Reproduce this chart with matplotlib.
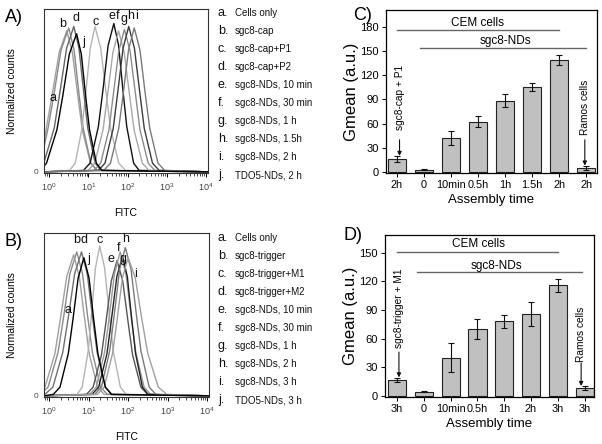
import numpy as np
import matplotlib
matplotlib.use('Agg')
import matplotlib.pyplot as plt
from matplotlib.ticker import LogLocator, NullFormatter

plt.rcParams['font.family'] = ['Liberation Sans', 'DejaVu Sans']
plt.rcParams['mathtext.default'] = 'regular'

# ---- flow cytometry histograms: log10(FITC) positions and normalized counts ----
letters = ['a', 'b', 'c', 'd', 'e', 'f', 'g', 'h', 'i', 'j']

hist_A_logx = [
    [-0.13, -0.077, 0.078, 0.256, 0.45, 0.595, 0.729, 0.845, 1.055, 1.224, 4.05],
    [-0.13, -0.027, 0.128, 0.306, 0.5, 0.636, 0.76, 0.869, 1.064, 1.222, 4.05],
    [-0.13, 0.525, 0.666, 0.84, 0.938, 1.049, 1.17, 1.315, 1.449, 1.565, 1.775, 1.944, 4.05],
    [-0.136, 0.13, 0.277, 0.446, 0.63, 0.761, 0.881, 0.986, 1.174, 1.327, 4.05],
    [-0.13, 0.876, 1.045, 1.255, 1.371, 1.505, 1.65, 1.771, 1.882, 1.98, 2.154, 2.295, 4.05],
    [-0.13, 0.996, 1.165, 1.375, 1.491, 1.625, 1.77, 1.915, 2.049, 2.165, 2.375, 2.544, 4.05],
    [-0.13, 1.146, 1.315, 1.525, 1.641, 1.775, 1.92, 2.065, 2.199, 2.315, 2.525, 2.694, 4.05],
    [-0.13, 1.256, 1.425, 1.635, 1.751, 1.885, 2.03, 2.175, 2.309, 2.425, 2.635, 2.804, 4.05],
    [-0.13, 1.396, 1.565, 1.775, 1.891, 2.025, 2.17, 2.315, 2.449, 2.565, 2.775, 2.944, 4.05],
    [-0.13, -0.066, 0.2, 0.347, 0.516, 0.7, 0.821, 0.932, 1.03, 1.204, 1.345, 4.05],
]
hist_A_counts = [
    [0.20, 0.29, 0.53, 0.82, 0.97, 0.82, 0.53, 0.29, 0.06, 0.01, 0.0],
    [0.17, 0.30, 0.54, 0.84, 0.99, 0.84, 0.54, 0.30, 0.06, 0.01, 0.0],
    [0.0, 0.01, 0.06, 0.30, 0.55, 0.85, 1.0, 0.85, 0.55, 0.30, 0.06, 0.01, 0.0],
    [0.06, 0.30, 0.55, 0.85, 1.0, 0.85, 0.55, 0.30, 0.06, 0.01, 0.0],
    [0.0, 0.01, 0.06, 0.31, 0.56, 0.87, 1.02, 0.87, 0.56, 0.31, 0.06, 0.01, 0.0],
    [0.0, 0.01, 0.06, 0.29, 0.53, 0.82, 0.97, 0.82, 0.53, 0.29, 0.06, 0.01, 0.0],
    [0.0, 0.01, 0.06, 0.29, 0.54, 0.83, 0.98, 0.83, 0.54, 0.29, 0.06, 0.01, 0.0],
    [0.0, 0.01, 0.06, 0.30, 0.55, 0.85, 1.0, 0.85, 0.55, 0.30, 0.06, 0.01, 0.0],
    [0.0, 0.01, 0.06, 0.30, 0.54, 0.84, 0.99, 0.84, 0.54, 0.30, 0.06, 0.01, 0.0],
    [0.04, 0.06, 0.29, 0.52, 0.81, 0.95, 0.81, 0.52, 0.29, 0.06, 0.01, 0.0],
]
hist_A_colors = ['#a0a0a0', '#8a8a8a', '#b4b4b4', '#666666', '#111111',
                 '#a8a8a8', '#8c8c8c', '#3c3c3c', '#7a7a7a', '#000000']
label_A_pos = [(0.09, 0.51), (0.35, 1.02), (1.18, 1.03), (0.69, 1.06), (1.6, 1.07),
               (1.75, 1.07), (1.9, 1.05), (2.07, 1.07), (2.22, 1.07), (0.88, 0.89)]

hist_B_logx = [
    [-0.309, -0.105, 0.146, 0.286, 0.446, 0.62, 0.765, 0.899, 1.015, 1.225, 1.394, 4.05],
    [-0.229, -0.025, 0.226, 0.366, 0.526, 0.70, 0.845, 0.979, 1.095, 1.305, 1.474, 4.05],
    [-0.13, 0.712, 0.837, 0.99, 1.076, 1.174, 1.28, 1.406, 1.522, 1.623, 1.804, 1.951, 4.05],
    [-0.109, 0.095, 0.346, 0.486, 0.646, 0.82, 0.965, 1.099, 1.215, 1.425, 1.594, 4.05],
    [-0.13, 0.946, 1.115, 1.325, 1.441, 1.575, 1.72, 1.865, 1.999, 2.115, 2.325, 2.494, 4.05],
    [-0.13, 1.026, 1.195, 1.405, 1.521, 1.655, 1.80, 1.945, 2.079, 2.195, 2.405, 2.574, 4.05],
    [-0.13, 1.086, 1.255, 1.465, 1.581, 1.715, 1.86, 1.981, 2.092, 2.19, 2.364, 2.505, 4.05],
    [-0.13, 1.156, 1.325, 1.535, 1.651, 1.785, 1.93, 2.075, 2.209, 2.325, 2.535, 2.704, 4.05],
    [-0.13, 1.226, 1.395, 1.605, 1.721, 1.855, 2.0, 2.184, 2.353, 2.5, 2.766, 2.98, 4.05],
    [-0.13, 0.106, 0.275, 0.485, 0.601, 0.735, 0.88, 1.011, 1.131, 1.236, 1.424, 1.577, 4.05],
]
hist_B_counts = [
    [0.01, 0.06, 0.29, 0.53, 0.82, 0.97, 0.82, 0.53, 0.29, 0.06, 0.01, 0.0],
    [0.01, 0.06, 0.30, 0.54, 0.84, 0.99, 0.84, 0.54, 0.30, 0.06, 0.01, 0.0],
    [0.0, 0.01, 0.06, 0.31, 0.57, 0.88, 1.03, 0.88, 0.57, 0.31, 0.06, 0.01, 0.0],
    [0.01, 0.06, 0.30, 0.54, 0.84, 0.99, 0.84, 0.54, 0.30, 0.06, 0.01, 0.0],
    [0.0, 0.01, 0.06, 0.28, 0.51, 0.79, 0.93, 0.79, 0.51, 0.28, 0.06, 0.01, 0.0],
    [0.0, 0.01, 0.06, 0.30, 0.54, 0.84, 0.99, 0.84, 0.54, 0.30, 0.06, 0.01, 0.0],
    [0.0, 0.01, 0.06, 0.29, 0.53, 0.82, 0.96, 0.82, 0.53, 0.29, 0.06, 0.01, 0.0],
    [0.0, 0.01, 0.06, 0.31, 0.56, 0.87, 1.02, 0.87, 0.56, 0.31, 0.06, 0.01, 0.0],
    [0.0, 0.01, 0.06, 0.29, 0.52, 0.81, 0.95, 0.81, 0.52, 0.29, 0.06, 0.01, 0.0],
    [0.0, 0.01, 0.06, 0.29, 0.52, 0.81, 0.95, 0.81, 0.52, 0.29, 0.06, 0.01, 0.0],
]
hist_B_colors = ['#a0a0a0', '#8a8a8a', '#b4b4b4', '#707070', '#555555',
                 '#9a9a9a', '#222222', '#7a7a7a', '#a0a0a0', '#000000']
label_B_pos = [(0.48, 0.59), (0.69, 1.07), (1.28, 1.07), (0.88, 1.07), (1.56, 0.94),
               (1.75, 1.02), (1.88, 0.94), (1.94, 1.08), (2.19, 0.84), (0.99, 0.94)]

legend_A = ['Cells only', 'sgc8-cap', 'sgc8-cap+P1', 'sgc8-cap+P2', 'sgc8-NDs, 10 min',
            'sgc8-NDs, 30 min', 'sgc8-NDs, 1 h', 'sgc8-NDs, 1.5h', 'sgc8-NDs, 2 h', 'TDO5-NDs, 2 h']
legend_B = ['Cells only', 'sgc8-trigger', 'sgc8-trigger+M1', 'sgc8-trigger+M2', 'sgc8-NDs, 10 min',
            'sgc8-NDs, 30 min', 'sgc8-NDs, 1 h', 'sgc8-NDs, 2 h', 'sgc8-NDs, 3 h', 'TDO5-NDs, 3 h']

# ---- Gmean bar charts ----
time_C = ['2h', '0', '10min', '0.5h', '1h', '1.5h', '2h', '2h']
gmean_C = [16, 3, 42, 62.5, 88.5, 105, 139, 5]
err_C = [3.5, 1, 8.5, 7, 8, 5, 6.6, 2.5]

time_D = ['3h', '0', '10min', '0.5h', '1h', '2h', '3h', '3h']
gmean_D = [16.5, 4.5, 40, 70, 78, 85.5, 116, 8]
err_D = [2, 0.7, 15, 10.3, 7, 12.5, 6.7, 2]

W, H = 602, 444
fig = plt.figure(figsize=(W / 100, H / 100), dpi=100)


def px_axes(left, top, right, bottom):
    return fig.add_axes([left / W, 1 - bottom / H, (right - left) / W, (bottom - top) / H])


def draw_hist(ax, xs, ys, colors, lab_pos):
    for x, y, c in zip(xs, ys, colors):
        ax.plot(10 ** np.array(x), y, color=c, lw=1.0)
    for l, (lx, ly) in zip(letters, lab_pos):
        ax.text(10 ** lx, ly, l, fontsize=9, ha='center', va='center', color='#111111')
    ax.set_xscale('log')
    ax.set_xlim(10 ** -0.13, 10 ** 4.05)
    ax.set_ylim(-0.008, 1.12)
    ax.set_xticks([1, 10, 100, 1000, 10000])
    ax.set_xticklabels([r'$10^{0}$', r'$10^{1}$', r'$10^{2}$', r'$10^{3}$', r'$10^{4}$'])
    ax.xaxis.set_minor_locator(LogLocator(base=10, subs=np.arange(2, 10), numticks=20))
    ax.xaxis.set_minor_formatter(NullFormatter())
    ax.tick_params(axis='x', which='major', length=3, width=0.7, labelsize=6.5,
                   labelcolor='#444444', pad=3)
    ax.tick_params(axis='x', which='minor', length=2, width=0.5)
    ax.set_yticks([0])
    ax.set_yticklabels(['0'])
    ax.tick_params(axis='y', length=0, labelsize=6, labelcolor='#444444', pad=4)
    for s in ax.spines.values():
        s.set_linewidth(0.8)
        s.set_color('#333333')
    ax.set_ylabel('Normalized counts', fontsize=7.5, labelpad=12)
    ax.set_xlabel('FITC', fontsize=7.5, labelpad=11)


axA = px_axes(44, 9, 208, 173)
draw_hist(axA, hist_A_logx, hist_A_counts, hist_A_colors, label_A_pos)
axB = px_axes(44, 233, 209, 397)
draw_hist(axB, hist_B_logx, hist_B_counts, hist_B_colors, label_B_pos)

for names, y0 in [(legend_A, 13), (legend_B, 238)]:
    for k, (l, name) in enumerate(zip(letters, names)):
        yy = 1 - (y0 + 18 * k) / H
        fig.text(218 / W, yy, l + '.', fontsize=9, va='center', ha='left', color='#111111')
        fig.text(235 / W, yy, name, fontsize=7, va='center', ha='left', color='#111111')


def draw_bars(ax, labels, vals, errs, ylim, xlim, yticks):
    x = np.arange(len(vals))
    ax.bar(x, vals, width=0.68, color='#c0c0c0', edgecolor='#222222', linewidth=0.8)
    ax.errorbar(x, vals, yerr=errs, fmt='none', ecolor='#111111', elinewidth=0.8,
                capsize=2, capthick=0.8)
    ax.set_xticks(x)
    ax.set_xticklabels(labels)
    ax.set_xlim(*xlim)
    ax.set_ylim(*ylim)
    ax.set_yticks(yticks)
    ax.tick_params(labelsize=8, length=3, width=0.7, pad=2)
    ax.tick_params(axis='x', labelsize=7.8)
    for s in ax.spines.values():
        s.set_linewidth(0.9)
    ax.set_ylabel('Gmean (a.u.)', fontsize=12, labelpad=1)
    ax.set_xlabel('Assembly time', fontsize=9.5, labelpad=3)


def note(ax, text, x, y_text, y_from, y_to):
    ax.annotate('', xy=(x, y_to), xytext=(x, y_from),
                arrowprops=dict(arrowstyle='-|>', color='#111111', lw=0.8, mutation_scale=6,
                                shrinkA=0, shrinkB=0))
    ax.text(x, y_text, text, rotation=90, ha='center', va='bottom', fontsize=7.3)


axC = px_axes(386, 10, 597, 173)
draw_bars(axC, time_C, gmean_C, err_C, (-1.2, 201), (-0.4, 7.4), range(0, 181, 30))
axC.plot([0, 6], [176, 176], color='#666666', lw=1)
axC.plot([0.85, 7], [154, 154], color='#666666', lw=1)
axC.text(3.0, 185, 'CEM cells', ha='center', va='center', fontsize=8.5)
axC.text(4.0, 162, 'sgc8-NDs', ha='center', va='center', fontsize=8.5)
note(axC, 'sgc8-cap + P1', 0.1, 52, 40, 20)
note(axC, 'Ramos cells', 6.95, 46, 40, 8)

axD = px_axes(385, 235, 594, 397)
draw_bars(axD, time_D, gmean_D, err_D, (-1, 168.5), (-0.45, 7.35), range(0, 151, 30))
axD.plot([0, 6], [150.5, 150.5], color='#666666', lw=1)
axD.plot([0.75, 6.9], [130, 130], color='#666666', lw=1)
axD.text(3.05, 159, 'CEM cells', ha='center', va='center', fontsize=8.5)
axD.text(3.7, 136, 'sgc8-NDs', ha='center', va='center', fontsize=8.5)
note(axD, 'sgc8-trigger + M1', 0.07, 50, 46, 19.5)
note(axD, 'Ramos cells', 6.87, 36, 34.5, 10.5)

fig.text(14 / W, 1 - 17 / H, 'A)', fontsize=13, ha='center', va='center')
fig.text(14 / W, 1 - 241 / H, 'B)', fontsize=13, ha='center', va='center')
fig.text(363 / W, 1 - 15 / H, 'C)', fontsize=13, ha='center', va='center')
fig.text(353 / W, 1 - 235 / H, 'D)', fontsize=13, ha='center', va='center')

fig.savefig('out.png', dpi=100)
